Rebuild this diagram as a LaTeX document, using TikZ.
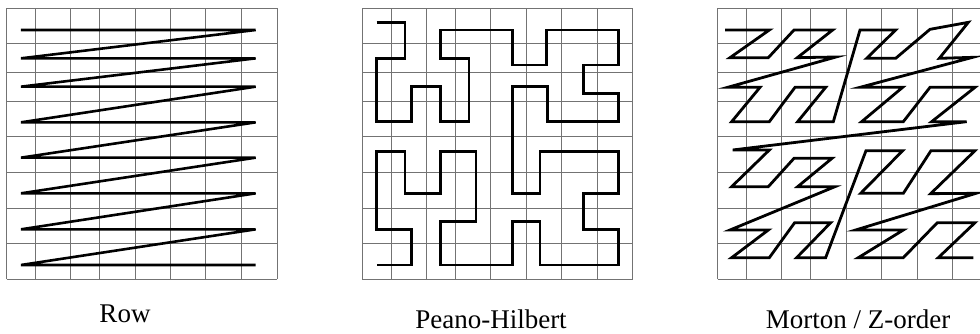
\documentclass[tikz,border=0pt]{standalone}
\usepackage{fontspec}
\setmainfont{Liberation Serif}
\begin{document}
\begin{tikzpicture}[x=1pt,y=-1pt,
  gridline/.style={draw=black!55, line width=0.9pt},
  curve/.style={draw=black, line width=2.8pt},
  lbl/.style={anchor=base, inner sep=0pt, font=\fontsize{27pt}{30pt}\selectfont}]
\clip (0,0) rectangle (980,334);
\fill[white] (0,0) rectangle (980,334);
% ---------- Row ----------
\begin{scope}[x=0.33333pt,y=-0.33333pt]
  \foreach \gx in {20,105,212,297,405,512,617,724,832}
    \draw[gridline] (\gx,25) -- (\gx,838);
  \foreach \gy in {25,130,217,303,410,517,625,730,838}
    \draw[gridline] (20,\gy) -- (832,\gy);
  \draw[curve, line width=2.6pt] (63,90) -- (767,90) -- (63,175) -- (767,175) -- (63,260) -- (767,260)
    -- (63,367) -- (767,367) -- (63,473) -- (767,473) -- (63,580) -- (767,580)
    -- (63,688) -- (767,688) -- (63,795) -- (767,795);
\end{scope}
% ---------- Peano-Hilbert ----------
\begin{scope}[xshift=330pt,x=0.33333pt,y=-0.33333pt]
  \foreach \gx in {97,183,290,376,482,588,695,803,908}
    \draw[gridline] (\gx,25) -- (\gx,838);
  \foreach \gy in {25,130,217,303,410,517,625,730,838}
    \draw[gridline] (97,\gy) -- (908,\gy);
  \draw[curve] (140,67) -- (225,67) -- (225,175) -- (140,175) -- (140,365) -- (245,365)
    -- (245,260) -- (332,260) -- (332,365) -- (417,365) -- (417,175) -- (332,175)
    -- (332,90) -- (547,90) -- (547,195) -- (650,195) -- (650,90) -- (865,90)
    -- (865,195) -- (760,195) -- (760,280) -- (865,280) -- (865,365) -- (652,365)
    -- (652,260) -- (547,260) -- (547,580) -- (630,580) -- (630,455) -- (865,455)
    -- (865,580) -- (760,580) -- (760,688) -- (865,688) -- (865,795) -- (630,795)
    -- (630,665) -- (547,665) -- (547,795) -- (332,795) -- (332,665) -- (438,665)
    -- (438,455) -- (332,455) -- (332,580) -- (225,580) -- (225,455) -- (140,455)
    -- (140,688) -- (245,688) -- (245,795) -- (140,795);
\end{scope}
% ---------- Morton / Z-order ----------
\begin{scope}[xshift=650pt,x=0.33333pt,y=-0.33333pt]
  \foreach \gx in {203,290,395,482,588,695,803,908,1013}
    \draw[gridline] (\gx,25) -- (\gx,838);
  \foreach \gy in {25,130,217,303,410,517,625,730,838}
    \draw[gridline] (203,\gy) -- (1013,\gy);
  \draw[curve] (225,90) -- (358,90) -- (240,173) -- (355,173)
    -- (432,90) -- (548,90) -- (442,173) -- (558,171)
    -- (233,262) -- (330,262) -- (245,365) -- (358,365)
    -- (435,262) -- (527,262) -- (443,365) -- (550,365)
    -- (630,90) -- (737,90) -- (650,175) -- (737,175)
    -- (840,88) -- (955,67) -- (868,175) -- (968,172)
    -- (630,262) -- (758,262) -- (635,365) -- (760,365)
    -- (840,262) -- (975,262) -- (845,365) -- (950,365)
    -- (248,450) -- (358,450) -- (245,560) -- (355,560)
    -- (432,475) -- (546,475) -- (443,560) -- (555,560)
    -- (240,690) -- (355,690) -- (245,773) -- (358,773)
    -- (434,668) -- (542,668) -- (440,773) -- (527,773)
    -- (648,452) -- (758,452) -- (632,580) -- (760,580)
    -- (843,452) -- (975,452) -- (842,581) -- (978,580)
    -- (617,690) -- (760,690) -- (625,773) -- (760,773)
    -- (862,668) -- (975,668) -- (865,773) -- (970,773);
\end{scope}
% ---------- labels ----------
\node[lbl] (rowlabel) at (125,322.5) {Row};
\node[lbl] (hilbertlabel) at (491,328) {Peano-Hilbert};
\node[lbl] (mortonlabel) at (858,328) {Morton / Z-order};
\end{tikzpicture}
\end{document}
